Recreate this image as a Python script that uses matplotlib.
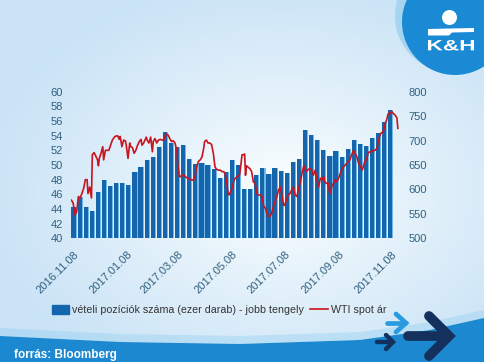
import matplotlib
matplotlib.use('Agg')
import matplotlib.pyplot as plt
import matplotlib.dates as mdates
from matplotlib.patches import Circle, Polygon, Patch, PathPatch
from matplotlib.lines import Line2D
from matplotlib.textpath import TextPath
from matplotlib.font_manager import FontProperties
from matplotlib.transforms import Affine2D
import numpy as np
import pandas as pd

plt.rcParams['font.family'] = ['Liberation Sans', 'DejaVu Sans']

# --- data ---
start = '2016-11-08'
# weekly long positions, thousand contracts (right axis)
positions = [565, 584, 565, 556, 595, 620, 608, 613, 613, 609,
             635, 646, 660, 666, 687, 717, 695, 687, 691, 662,
             652, 654, 649, 642, 623, 635, 660, 650, 600, 600,
             630, 643, 632, 643, 638, 634, 656, 662, 722, 711,
             702, 681, 668, 679, 666, 682, 702, 692, 688, 706,
             715, 739, 762]

# WTI spot price (left axis), days counted from start
wti_day = [-3, -1, 1, 3, 5, 7, 9, 11, 13, 15, 16, 18, 20, 21, 23, 25, 27, 28, 29, 31,
           33, 34, 36, 38, 40, 42, 44, 47, 50, 52, 53, 55, 57, 59, 60, 62, 64, 65, 67, 69,
           71, 73, 75, 77, 78, 80, 83, 84, 86, 88, 90, 91, 93, 95, 97, 99, 101, 103, 105, 106,
           108, 110, 112, 114, 116, 118, 119, 121, 122, 124, 126, 128, 129, 131, 133, 135, 137, 139, 141, 143,
           145, 147, 149, 150, 152, 154, 156, 158, 160, 162, 164, 166, 168, 170, 172, 173, 175, 177, 178, 180,
           182, 184, 187, 190, 191, 193, 195, 196, 197, 198, 200, 202, 204, 206, 208, 210, 212, 214, 216, 218,
           220, 221, 223, 225, 227, 229, 231, 233, 235, 237, 239, 241, 242, 244, 246, 248, 250, 252, 254, 256,
           258, 260, 262, 264, 265, 267, 269, 271, 273, 275, 277, 279, 281, 283, 285, 287, 288, 290, 292, 294,
           296, 298, 300, 302, 304, 306, 308, 310, 311, 313, 315, 317, 319, 321, 323, 325, 327, 329, 331, 333,
           334, 336, 338, 340, 342, 344, 346, 348, 350, 352, 354, 356, 357, 359, 361, 363, 365, 367, 369, 371,
           372]
wti_price = [45.2, 44.8, 43.2, 43.6, 45.7, 45.5, 46.1, 46.8, 48.0, 48.0, 46.1, 47.0, 45.5, 51.4, 51.7, 51.2, 50.7, 49.9, 50.9, 51.6,
             52.5, 50.7, 52.0, 52.0, 52.0, 52.7, 53.4, 53.9, 54.0, 53.5, 53.9, 52.5, 53.4, 53.3, 52.7, 50.9, 53.0, 52.5, 52.4, 51.6,
             52.0, 52.7, 53.2, 53.5, 52.7, 53.0, 53.8, 53.4, 53.0, 53.8, 51.8, 53.2, 53.6, 53.0, 53.4, 53.5, 53.4, 53.4, 54.1, 54.2,
             54.1, 53.6, 53.2, 53.3, 53.0, 52.0, 50.2, 48.4, 48.4, 48.6, 48.6, 48.4, 48.3, 48.2, 48.0, 48.0, 47.9, 48.4, 49.8, 50.5,
             50.7, 51.1, 52.3, 53.2, 53.4, 53.0, 53.0, 52.8, 51.6, 49.7, 49.4, 49.3, 49.3, 49.1, 49.1, 48.9, 48.0, 46.1, 45.9, 46.4,
             47.0, 48.0, 48.4, 48.6, 49.3, 51.4, 51.4, 51.5, 48.6, 49.9, 49.7, 49.5, 49.1, 47.7, 47.5, 46.1, 45.9, 45.9, 45.7, 44.3,
             44.1, 43.6, 43.0, 43.0, 43.4, 44.3, 45.0, 45.7, 46.6, 47.0, 45.7, 44.5, 44.5, 45.2, 45.9, 46.1, 46.6, 47.0, 45.9, 45.7,
             46.8, 47.7, 48.9, 49.9, 49.5, 49.1, 49.4, 49.5, 49.3, 48.6, 49.3, 48.0, 47.0, 48.2, 48.0, 48.4, 47.7, 47.5, 47.5, 46.1,
             47.0, 47.5, 48.0, 47.7, 48.2, 48.9, 49.5, 49.8, 49.9, 50.2, 50.5, 50.7, 51.4, 52.0, 51.6, 51.1, 50.2, 49.8, 49.3, 50.0,
             50.5, 50.7, 51.7, 51.8, 51.8, 52.0, 52.0, 52.3, 53.4, 54.3, 54.4, 54.8, 55.5, 56.1, 57.0, 57.1, 57.3, 57.0, 56.8, 56.4,
             55.0]

tick_dates = ['2016-11-08', '2017-01-08', '2017-03-08', '2017-05-08',
              '2017-07-08', '2017-09-08', '2017-11-08']

bar_label = 'vételi pozíciók száma (ezer darab) - jobb tengely'
line_label = 'WTI spot ár'

t0 = mdates.date2num(pd.Timestamp(start))
bar_x = t0 + 7 * np.arange(len(positions))
line_x = t0 + np.array(wti_day)

# --- figure & background ---
fig = plt.figure(figsize=(4.84, 3.62), dpi=100)
bg = fig.add_axes([0, 0, 1, 1], zorder=-10)
bg.set_xlim(0, 484)
bg.set_ylim(362, 0)
bg.axis('off')

gx, gy = np.meshgrid(np.arange(484), np.arange(362))
t = np.clip(np.sqrt(((gx - 280) / 300.0) ** 2 + ((gy - 190) / 215.0) ** 2), 0, 1) ** 0.9
edge = np.array([0.79, 0.89, 0.965])
img = (1 - t[..., None]) * np.array([0.99, 1.0, 1.0]) + t[..., None] * edge
bg.imshow(img, extent=(0, 484, 362, 0), aspect='auto')

# bottom wave
wx = np.linspace(0, 484, 80)
wy = np.interp(wx, [0, 120, 240, 360, 430, 484], [336, 342, 344, 340, 330, 318])
bg.fill_between(wx, wy - 8, wy, color='#9ad2f2', alpha=0.45, lw=0)
bg.fill_between(wx, wy, 362, color='#1b88d0', lw=0)
bg.text(14, 355, 'forrás: Bloomberg', color='white', fontsize=8.5,
        fontweight='bold', va='center', ha='left')

# arrows
navy = '#13315c'
bg.plot([408, 446], [336, 336], color=navy, lw=7, solid_capstyle='round')
bg.plot([429, 449, 429], [316, 336, 356], color=navy, lw=7,
        solid_capstyle='round', solid_joinstyle='miter')
bg.plot([387, 405], [323, 323], color='#2b9be0', lw=3.4, solid_capstyle='round')
bg.plot([396, 406, 396], [314, 323, 332], color='#2b9be0', lw=3.4,
        solid_capstyle='round', solid_joinstyle='miter')
bg.plot([377, 392], [342, 342], color=navy, lw=3.2, solid_capstyle='round')
bg.plot([386, 393, 386], [335, 342, 349], color=navy, lw=3.2,
        solid_capstyle='round', solid_joinstyle='miter')

# logo
bg.add_patch(Circle((451, 16), 56, color='#a6d5f2', lw=0))
bg.add_patch(Circle((455, 22), 53, color='#1a8ad4', lw=0))
bg.add_patch(Circle((449.5, 17.5), 7.5, color='white', lw=0))
bg.add_patch(Polygon([(428, 29), (474, 28), (474, 32), (452, 32.5), (449, 35.5), (428, 35.5)],
                     closed=True, color='white', lw=0))
tp = TextPath((0, 0), 'K&H', size=10, prop=FontProperties(family='Liberation Sans', weight='bold'))
ext = tp.get_extents()
sx = 46.0 / ext.width
sy = 10.5 / ext.height
tr = Affine2D().translate(-ext.x0, -ext.y0).scale(sx, -sy).translate(428, 50.5)
bg.add_patch(PathPatch(tr.transform_path(tp), color='white', lw=0))

# --- chart ---
ax = fig.add_axes([71 / 484, 1 - 238.3 / 362, 329 / 484, 146.6 / 362])
ax2 = ax.twinx()
ax.set_zorder(ax2.get_zorder() + 1)
ax.patch.set_visible(False)

ax2.bar(bar_x - 3.0, positions, width=6.0, align='edge', color='#6fb8e8', lw=0)
ax2.bar(bar_x - 3.0, positions, width=4.8, align='edge', color='#1565ad', lw=0)
ax.plot(line_x, wti_price, color='#c8141e', lw=1.2)

ax.set_ylim(40, 60)
ax2.set_ylim(500, 800)
ax.set_yticks(np.arange(40, 61, 2))
ax2.set_yticks(np.arange(500, 801, 50))
ax.set_xlim(t0 - 3.5, t0 + 374.5)

ticks = [mdates.date2num(pd.Timestamp(d)) for d in tick_dates]
ax.set_xticks(ticks)
ax.set_xticklabels([pd.Timestamp(d).strftime('%Y.%m.%d') for d in tick_dates],
                   rotation=45, ha='right', rotation_mode='anchor')

lab_col = '#30607f'
for a in (ax, ax2):
    for s in a.spines.values():
        s.set_visible(False)
    a.tick_params(length=0, labelsize=8, labelcolor=lab_col)
ax.tick_params(axis='y', pad=6)
ax2.tick_params(axis='y', pad=6)
ax.tick_params(axis='x', pad=8)

handles = [Patch(color='#1565ad'), Line2D([0], [0], color='#c8141e', lw=1.2)]
fig.legend(handles, [bar_label, line_label], loc='center',
           bbox_to_anchor=(219 / 484, 1 - 310 / 362), ncol=2, frameon=False,
           fontsize=7.7, handlelength=1.6, handleheight=0.9, handletextpad=0.3,
           columnspacing=0.6, labelcolor='#333333')

fig.savefig('out.png', dpi=100)
